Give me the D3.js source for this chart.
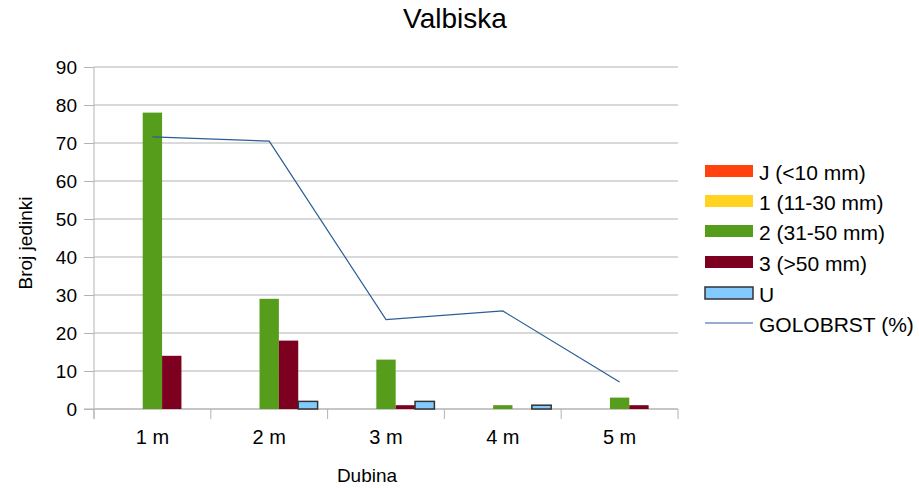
<!DOCTYPE html>
<html>
<head>
<meta charset="utf-8">
<script src="https://cdn.jsdelivr.net/npm/d3@7"></script>
<style>
body { margin: 0; background: #fff; }
text { font-family: "Liberation Sans", Arial, sans-serif; fill: #000; }
</style>
</head>
<body>
<div id="canvas"></div>
<script>
// data
var categories = ["1 m", "2 m", "3 m", "4 m", "5 m"];
var seriesNames = ["J (<10 mm)", "1 (11-30 mm)", "2 (31-50 mm)", "3 (>50 mm)", "U"];
var seriesJ = [0, 0, 0, 0, 0];
var series1 = [0, 0, 0, 0, 0];
var series2 = [78, 29, 13, 1, 3];
var series3 = [14, 18, 1, 0, 1];
var seriesU = [0, 2, 2, 1, 0];
var golobrst = [71.6, 70.5, 23.5, 25.8, 7.1];
var lineName = "GOLOBRST (%)";
var yTicks = [0, 10, 20, 30, 40, 50, 60, 70, 80, 90];

var seriesColors = ["#ff420e", "#ffd320", "#579d1c", "#7e0021", "#83caff"];
var lineColor = "#2a5d96";

var canvasWidth = 919, canvasHeight = 488;
var plotLeft = 94, plotRight = 678, plotTop = 67, plotBottom = 409;

var svg = d3.select("#canvas").append("svg")
    .attr("width", canvasWidth)
    .attr("height", canvasHeight)
    .attr("viewBox", "0 0 " + canvasWidth + " " + canvasHeight);

var x0 = d3.scaleBand().domain(categories).range([plotLeft, plotRight]).padding(0);
var x1 = d3.scaleBand().domain(d3.range(seriesNames.length))
    .range([10, x0.bandwidth() - 10]).padding(0);
var y = d3.scaleLinear().domain([0, 90]).range([plotBottom, plotTop]);

// grid
svg.append("g").selectAll("line").data(yTicks).enter().append("line")
    .attr("x1", plotLeft).attr("x2", plotRight)
    .attr("y1", function(d) { return y(d); })
    .attr("y2", function(d) { return y(d); })
    .attr("stroke", "#b3b3b3").attr("stroke-width", 1);

// y axis
var yAxis = svg.append("g").attr("transform", "translate(" + plotLeft + ",0)")
    .call(d3.axisLeft(y).tickValues(yTicks).tickSize(10).tickPadding(7));
yAxis.select(".domain").remove();
yAxis.selectAll(".tick line").attr("stroke", "#b3b3b3");
yAxis.selectAll(".tick text").style("font-size", "19px").style("font-family", "Liberation Sans, Arial, sans-serif").attr("fill", "#000");
svg.append("line").attr("x1", plotLeft).attr("x2", plotLeft)
    .attr("y1", plotTop).attr("y2", plotBottom + 10)
    .attr("stroke", "#b3b3b3");

// x axis
svg.append("line").attr("x1", plotLeft - 10).attr("x2", plotRight)
    .attr("y1", plotBottom).attr("y2", plotBottom).attr("stroke", "#b3b3b3");
var bounds = categories.map(function(c) { return x0(c); }).concat([plotRight]);
svg.append("g").selectAll("line").data(bounds).enter().append("line")
    .attr("x1", function(d) { return d; }).attr("x2", function(d) { return d; })
    .attr("y1", plotBottom).attr("y2", plotBottom + 10)
    .attr("stroke", "#b3b3b3");
svg.append("g").selectAll("text").data(categories).enter().append("text")
    .attr("x", function(d) { return x0(d) + x0.bandwidth() / 2; })
    .attr("y", 444)
    .attr("text-anchor", "middle")
    .style("font-size", "20px")
    .text(function(d) { return d; });

// bars
var allSeries = [seriesJ, series1, series2, series3, seriesU];
allSeries.forEach(function(vals, si) {
    svg.append("g").selectAll("rect").data(vals).enter().append("rect")
        .attr("x", function(d, i) { return x0(categories[i]) + x1(si); })
        .attr("y", function(d) { return y(d); })
        .attr("width", x1.bandwidth())
        .attr("height", function(d) { return y(0) - y(d); })
        .attr("fill", seriesColors[si])
        .attr("stroke", si == 4 ? "#333333" : "none")
        .attr("stroke-width", si == 4 ? 1.5 : 0)
        .style("display", function(d) { return d > 0 ? null : "none"; });
});

// line
var line = d3.line()
    .x(function(d, i) { return x0(categories[i]) + x0.bandwidth() / 2; })
    .y(function(d) { return y(d); });
svg.append("path").datum(golobrst)
    .attr("d", line)
    .attr("fill", "none")
    .attr("stroke", lineColor)
    .attr("stroke-width", 1.2);

// titles
svg.append("text").attr("x", 455).attr("y", 28).attr("text-anchor", "middle")
    .style("font-size", "28px").text("Valbiska");
svg.append("text").attr("x", 367).attr("y", 482).attr("text-anchor", "middle")
    .style("font-size", "19px").text("Dubina");
svg.append("text").attr("transform", "translate(32,243) rotate(-90)")
    .attr("text-anchor", "middle").style("font-size", "19px").text("Broj jedinki");

// legend
var legendY = [171, 201, 231, 262, 293, 323];
var legendNames = seriesNames.concat([lineName]);
legendNames.forEach(function(name, i) {
    if (i < 5) {
        svg.append("rect").attr("x", 705).attr("y", legendY[i] - 6)
            .attr("width", 48).attr("height", 12)
            .attr("fill", seriesColors[i])
            .attr("stroke", i == 4 ? "#333333" : "none")
            .attr("stroke-width", i == 4 ? 1.5 : 0);
    } else {
        svg.append("line").attr("x1", 705).attr("x2", 753)
            .attr("y1", legendY[i]).attr("y2", legendY[i])
            .attr("stroke", lineColor).attr("stroke-width", 1.2);
    }
    svg.append("text").attr("x", 759).attr("y", legendY[i] + 9)
        .style("font-size", "21px").text(name);
});
</script>
</body>
</html>
